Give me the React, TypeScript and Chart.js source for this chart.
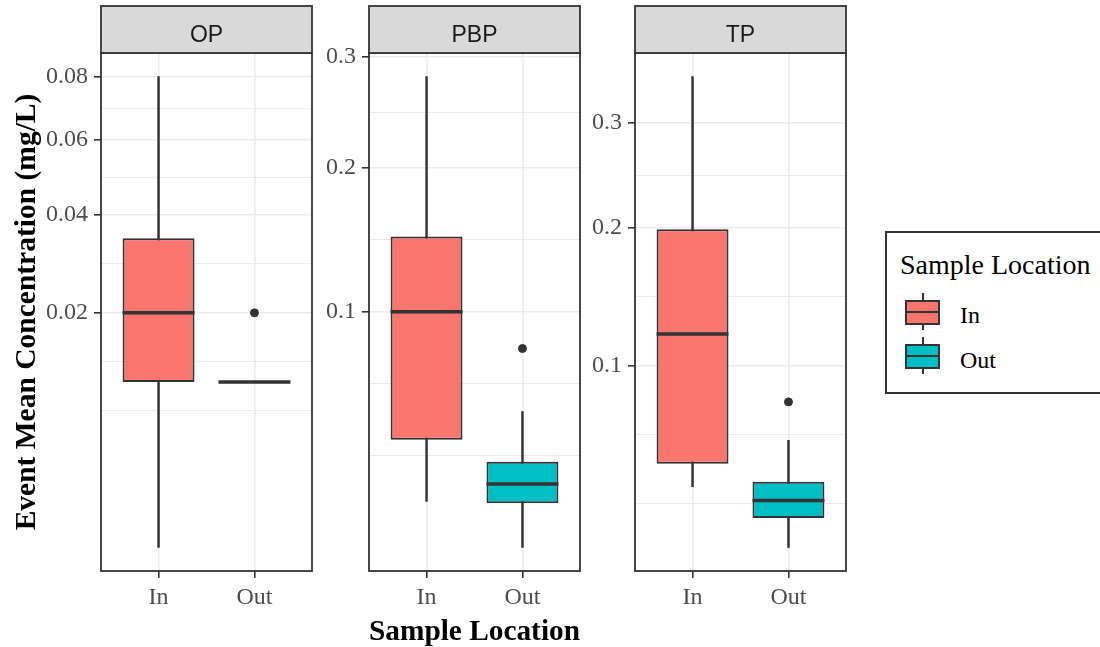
import React, { useEffect, useRef } from 'react';
import { Chart, registerables, LinearScale } from 'chart.js';

// ---------------- data ----------------
const categories = ['In', 'Out'];
const boxFills = ['#F8766D', '#00BFC4'];
const panelNames = ['OP', 'PBP', 'TP'];

// OP (per category: In, Out)
const opLower = [0.000001, 0.01];
const opQ1 = [0.01, 0.01];
const opMedian = [0.02, 0.01];
const opQ3 = [0.0346, 0.01];
const opUpper = [0.08, 0.01];
const opOutliers: number[][] = [[], [0.02]];
const opTicks = [0.02, 0.04, 0.06, 0.08];
const opTickLabels = ['0.02', '0.04', '0.06', '0.08'];

// PBP
const pbpLower = [0.0207, 0.0104];
const pbpQ1 = [0.04, 0.0202];
const pbpMedian = [0.1, 0.0255];
const pbpQ3 = [0.148, 0.0324];
const pbpUpper = [0.281, 0.0509];
const pbpOutliers: number[][] = [[], [0.08]];
const pbpTicks = [0.1, 0.2, 0.3];
const pbpTickLabels = ['0.1', '0.2', '0.3'];

// TP
const tpLower = [0.0404, 0.0205];
const tpQ1 = [0.0497, 0.0293];
const tpMedian = [0.12, 0.0353];
const tpQ3 = [0.199, 0.0423];
const tpUpper = [0.35, 0.0601];
const tpOutliers: number[][] = [[], [0.0794]];
const tpTicks = [0.1, 0.2, 0.3];
const tpTickLabels = ['0.1', '0.2', '0.3'];

const yTitle = 'Event Mean Concentration (mg/L)';
const xTitle = 'Sample Location';
const legendTitle = 'Sample Location';

// ---------------- styles ----------------
const SERIF = '"Liberation Serif", "Times New Roman", Times, serif';
const SANS = '"Liberation Sans", Arial, Helvetica, sans-serif';
const INK = '#333333';
const GRID = '#EBEBEB';
const AXIS_TEXT = '#4D4D4D';

// ---------------- sqrt scale ----------------
const tr = (v: number) => Math.sign(v) * Math.sqrt(Math.abs(v));
const inv = (t: number) => Math.sign(t) * t * t;

class SqrtScale extends LinearScale {
  static id = 'sqrt';
  static defaults = {};

  determineDataLimits() {
    super.determineDataLimits();
    const t0 = tr(this.min as number);
    const t1 = tr(this.max as number);
    const pad = (t1 - t0) * 0.05;
    (this as any)._tS = t0 - pad;
    (this as any)._tE = t1 + pad;
  }

  buildTicks() {
    const tS = (this as any)._tS as number;
    const tE = (this as any)._tE as number;
    const majors: number[] = (this.options as any).majorValues || [];
    const inside = (t: number) => t >= tS - 1e-9 && t <= tE + 1e-9;
    const kept = majors.filter((v) => inside(tr(v)));
    const b = kept.map(tr);
    const ticks: any[] = kept.map((v) => ({ value: v, minor: false }));
    if (b.length >= 2) {
      const bd = b[1] - b[0];
      const ext = b.slice();
      if (tS < b[0]) ext.unshift(b[0] - bd);
      if (tE > b[b.length - 1]) ext.push(b[b.length - 1] + bd);
      const mins: number[] = [];
      for (let i = 0; i < ext.length - 1; i++) mins.push((ext[i] + ext[i + 1]) / 2);
      if (ext[0] < b[0]) mins.push(ext[0]);
      if (ext[ext.length - 1] > b[b.length - 1]) mins.push(ext[ext.length - 1]);
      mins.filter(inside).forEach((t) => ticks.push({ value: inv(t), minor: true }));
    }
    ticks.sort((a, c) => a.value - c.value);
    return ticks;
  }

  getPixelForValue(value: number) {
    if (value === null || value === undefined) return NaN;
    const tS = (this as any)._tS as number;
    const tE = (this as any)._tE as number;
    return this.getPixelForDecimal((tr(value) - tS) / (tE - tS));
  }

  getValueForPixel(pixel: number) {
    const tS = (this as any)._tS as number;
    const tE = (this as any)._tE as number;
    return inv(tS + this.getDecimalForPixel(pixel) * (tE - tS));
  }
}

Chart.register(...registerables, SqrtScale as any);

// ---------------- panels ----------------
type PanelData = {
  name: string;
  lower: number[];
  q1: number[];
  median: number[];
  q3: number[];
  upper: number[];
  outliers: number[][];
  ticks: number[];
  tickLabels: string[];
};

const panelsData: PanelData[] = [
  { name: panelNames[0], lower: opLower, q1: opQ1, median: opMedian, q3: opQ3, upper: opUpper, outliers: opOutliers, ticks: opTicks, tickLabels: opTickLabels },
  { name: panelNames[1], lower: pbpLower, q1: pbpQ1, median: pbpMedian, q3: pbpQ3, upper: pbpUpper, outliers: pbpOutliers, ticks: pbpTicks, tickLabels: pbpTickLabels },
  { name: panelNames[2], lower: tpLower, q1: tpQ1, median: tpMedian, q3: tpQ3, upper: tpUpper, outliers: tpOutliers, ticks: tpTicks, tickLabels: tpTickLabels },
];

type PanelLayout = { left: number; width: number; axisWidth: number; yTitle: boolean; xTitle: boolean };
const CANVAS_H = 647;
const STRIP_TOP = 6;
const PLOT_TOP = 53;
const X_AXIS_H = 76;
const panelLayouts: PanelLayout[] = [
  { left: 0, width: 317, axisWidth: 101, yTitle: true, xTitle: false },
  { left: 320, width: 265, axisWidth: 49, yTitle: false, xTitle: true },
  { left: 586, width: 265, axisWidth: 49, yTitle: false, xTitle: false },
];

const facetPlugin = {
  id: 'facet',
  afterDatasetsDraw(chart: any, _args: any, opts: any) {
    const { ctx, chartArea: a } = chart;
    ctx.save();
    ctx.lineWidth = 1.8;
    ctx.strokeStyle = INK;
    ctx.strokeRect(a.left, a.top, a.right - a.left, a.bottom - a.top);
    ctx.fillStyle = '#D9D9D9';
    ctx.fillRect(a.left, STRIP_TOP, a.right - a.left, a.top - STRIP_TOP);
    ctx.strokeRect(a.left, STRIP_TOP, a.right - a.left, a.top - STRIP_TOP);
    ctx.fillStyle = '#1A1A1A';
    ctx.font = `23px ${SANS}`;
    ctx.textAlign = 'center';
    ctx.textBaseline = 'alphabetic';
    ctx.fillText(opts.label, (a.left + a.right) / 2, 41.5);
    ctx.restore();
  },
};

function buildConfig(p: PanelData, lay: PanelLayout): any {
  const whiskers = categories.map((_, i) => ({ x: i + 1, y: [p.lower[i], p.upper[i]] }));
  const boxes = categories.map((_, i) => ({ x: i + 1, y: [p.q1[i], p.q3[i]] }));
  const medians = categories.map((_, i) => ({ x: i + 1, y: p.median[i] }));
  const outliers = categories.flatMap((_, i) => p.outliers[i].map((v) => ({ x: i + 1, y: v })));
  const halfBox = (ctx: any) => {
    const xs = ctx.chart.scales.x;
    return 0.375 * Math.abs(xs.getPixelForValue(2) - xs.getPixelForValue(1));
  };
  return {
    type: 'bar',
    data: {
      datasets: [
        {
          type: 'scatter',
          label: 'outliers',
          data: outliers,
          order: 1,
          pointStyle: 'circle',
          pointRadius: 4,
          pointBackgroundColor: INK,
          pointBorderColor: INK,
          pointBorderWidth: 1,
        },
        {
          type: 'scatter',
          label: 'median',
          data: medians,
          order: 2,
          pointStyle: 'line',
          pointRadius: halfBox,
          pointBorderWidth: 3.5,
          pointBorderColor: INK,
          pointBackgroundColor: INK,
        },
        {
          type: 'bar',
          label: 'box',
          data: boxes,
          order: 3,
          backgroundColor: boxFills,
          borderColor: INK,
          borderWidth: 2,
          borderSkipped: false,
          grouped: false,
          barPercentage: 0.75,
          categoryPercentage: 1,
        },
        {
          type: 'bar',
          label: 'whisker',
          data: whiskers,
          order: 4,
          backgroundColor: INK,
          borderWidth: 0,
          barThickness: 1.8,
          grouped: false,
        },
      ],
    },
    options: {
      animation: false,
      responsive: false,
      devicePixelRatio: 1,
      events: [],
      layout: { padding: { top: PLOT_TOP, right: 4, bottom: 0, left: 0 } },
      plugins: {
        legend: { display: false },
        tooltip: { enabled: false },
        facet: { label: p.name },
      },
      scales: {
        x: {
          type: 'linear',
          min: 0.4,
          max: 2.6,
          offset: false,
          afterBuildTicks: (scale: any) => {
            scale.ticks = categories.map((_, i) => ({ value: i + 1 }));
          },
          afterFit: (scale: any) => {
            scale.height = X_AXIS_H;
          },
          grid: { color: GRID, lineWidth: 1.6, offset: false, tickLength: 7, tickColor: INK, tickWidth: 1.6 },
          border: { display: false },
          ticks: {
            autoSkip: false,
            maxRotation: 0,
            padding: 5,
            color: AXIS_TEXT,
            font: { family: SERIF, size: 24 },
            callback: (v: any) => categories[Math.round(v) - 1] ?? '',
          },
          title: {
            display: lay.xTitle,
            text: xTitle,
            color: '#000000',
            font: { family: SERIF, size: 29.5, weight: 'bold', lineHeight: 1 },
            padding: { top: 0, bottom: 0 },
          },
        },
        y: {
          type: 'sqrt',
          beginAtZero: false,
          majorValues: p.ticks,
          afterFit: (scale: any) => {
            scale.width = lay.axisWidth;
          },
          grid: {
            color: GRID,
            lineWidth: (c: any) => (c.tick && c.tick.minor ? 1 : 1.6),
            tickColor: (c: any) => (c.tick && c.tick.minor ? 'rgba(0,0,0,0)' : INK),
            tickWidth: 1.6,
            tickLength: 7,
          },
          border: { display: false },
          ticks: {
            autoSkip: false,
            padding: 6,
            color: AXIS_TEXT,
            font: { family: SERIF, size: 24 },
            callback: (v: any, i: number, ticks: any[]) => {
              if (ticks[i] && ticks[i].minor) return '';
              const k = p.ticks.indexOf(v);
              return k >= 0 ? p.tickLabels[k] : '';
            },
          },
          title: {
            display: lay.yTitle,
            text: yTitle,
            color: '#000000',
            font: { family: SERIF, size: 29.5, weight: 'bold', lineHeight: 1 },
            padding: { top: 12.5, bottom: 0 },
          },
        },
      },
    },
    plugins: [facetPlugin],
  };
}

function FacetPanel({ panel, layout }: { panel: PanelData; layout: PanelLayout }) {
  const ref = useRef<HTMLCanvasElement>(null);
  useEffect(() => {
    const chart = new Chart(ref.current as HTMLCanvasElement, buildConfig(panel, layout));
    return () => chart.destroy();
  }, [panel, layout]);
  return (
    <canvas
      ref={ref}
      width={layout.width}
      height={CANVAS_H}
      style={{ position: 'absolute', left: layout.left, top: 0, width: layout.width, height: CANVAS_H }}
    />
  );
}

function Legend() {
  return (
    <>
      <div
        style={{
          position: 'absolute',
          left: 885,
          top: 231,
          width: 260,
          height: 163,
          border: `2px solid ${INK}`,
          boxSizing: 'border-box',
        }}
      />
      <div
        style={{
          position: 'absolute',
          left: 900,
          top: 250.5,
          fontFamily: SERIF,
          fontSize: 28,
          lineHeight: '28px',
          color: '#000',
          whiteSpace: 'nowrap',
        }}
      >
        {legendTitle}
      </div>
      {categories.map((c, i) => {
        const y0 = 292.5 + i * 44;
        return (
          <React.Fragment key={c}>
            <div style={{ position: 'absolute', left: 921.5, top: y0, width: 2, height: 37.5, background: INK }} />
            <div
              style={{
                position: 'absolute',
                left: 905,
                top: y0 + 7,
                width: 35,
                height: 25,
                background: boxFills[i],
                border: `2px solid ${INK}`,
                boxSizing: 'border-box',
              }}
            />
            <div style={{ position: 'absolute', left: 905, top: y0 + 18.5, width: 35, height: 2, background: INK }} />
            <div
              style={{
                position: 'absolute',
                left: 960,
                top: 303 + i * 45,
                fontFamily: SERIF,
                fontSize: 24,
                lineHeight: '24px',
                color: '#000',
                whiteSpace: 'nowrap',
              }}
            >
              {c}
            </div>
          </React.Fragment>
        );
      })}
    </>
  );
}

export default function App() {
  return (
    <div
      style={{
        position: 'absolute',
        left: 0,
        top: 0,
        width: 1100,
        height: 647,
        overflow: 'hidden',
        background: '#ffffff',
      }}
    >
      {panelsData.map((p, i) => (
        <FacetPanel key={p.name} panel={p} layout={panelLayouts[i]} />
      ))}
      <Legend />
    </div>
  );
}
